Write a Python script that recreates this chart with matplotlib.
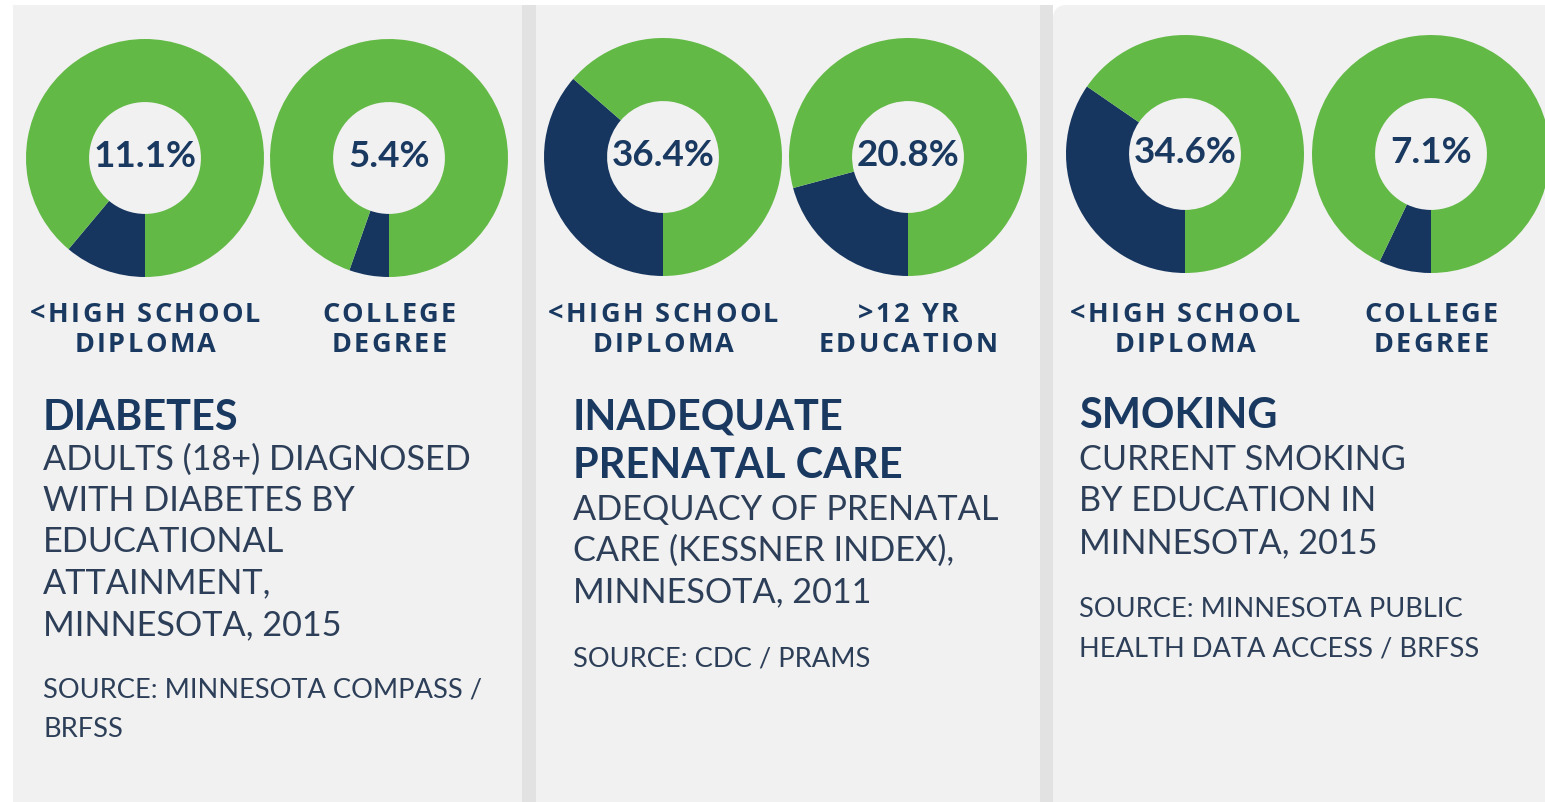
import matplotlib
matplotlib.use("Agg")
import matplotlib.pyplot as plt
from matplotlib.patches import Rectangle, FancyBboxPatch
from matplotlib.font_manager import findfont, FontProperties
from matplotlib.ft2font import FT2Font

W, H = 1545, 803
DPI = 100

# ---------------- data ----------------
panel_titles = ["DIABETES", "INADEQUATE\nPRENATAL CARE", "SMOKING"]
panel_desc = [
    ["ADULTS (18+) DIAGNOSED", "WITH DIABETES BY", "EDUCATIONAL", "ATTAINMENT,", "MINNESOTA, 2015"],
    ["ADEQUACY OF PRENATAL", "CARE (KESSNER INDEX),", "MINNESOTA, 2011"],
    ["CURRENT SMOKING", "BY EDUCATION IN", "MINNESOTA, 2015"],
]
panel_sources = [
    ["SOURCE: MINNESOTA COMPASS /", "BRFSS"],
    ["SOURCE: CDC / PRAMS"],
    ["SOURCE: MINNESOTA PUBLIC", "HEALTH DATA ACCESS / BRFSS"],
]
group_labels = [
    ["<HIGH SCHOOL\nDIPLOMA", "COLLEGE\nDEGREE"],
    ["<HIGH SCHOOL\nDIPLOMA", ">12 YR\nEDUCATION"],
    ["<HIGH SCHOOL\nDIPLOMA", "COLLEGE\nDEGREE"],
]
percent_values = [
    [11.1, 5.4],
    [36.4, 20.8],
    [34.6, 7.1],
]

# ---------------- style / layout ----------------
GREEN = "#63b946"
NAVY = "#163660"
TEXT_NAVY = "#1a3960"
BODY = "#2d3f58"
PANEL_BG = "#f1f1f1"
SEP = "#e2e2e2"

panel_x = [(13, 522), (536, 1040), (1053, 1545)]
donut_cx = [[145, 389], [663, 908], [1185, 1431]]
donut_cy = [159, 158, 155]
R = 119
text_x = [43, 573, 1079]

title_base = [[430], [430, 478], [428]]
desc_base = [[470, 511, 552, 593, 635], [520, 561, 602], [470, 511, 553]]
src_base = [[698, 737], [667], [617, 657]]

LABEL_FS = 19.5
LABEL_TRACK = 2.4  # px between letters
LABEL_FONT = "Open Sans"

fig = plt.figure(figsize=(W / DPI, H / DPI), dpi=DPI)
fig.patch.set_facecolor("white")

def fx(x):
    return x / W

def fy(y):
    return 1 - y / H

bg = fig.add_axes([0, 0, 1, 1])
bg.set_xlim(0, W)
bg.set_ylim(H, 0)
bg.axis("off")
bg.set_zorder(0)

# panels
for i, (x0, x1) in enumerate(panel_x):
    if i < 2:
        bg.add_patch(Rectangle((x0, 6), x1 - x0, H, facecolor=PANEL_BG, edgecolor="none"))
    else:
        bg.add_patch(FancyBboxPatch((x0 + 12, 18), x1 - x0 + 30 - 12, H,
                                    boxstyle="round,pad=12,rounding_size=14",
                                    facecolor=PANEL_BG, edgecolor="none"))
# separators
for xs in [(522, 536), (1040, 1053)]:
    bg.add_patch(Rectangle((xs[0], 6), xs[1] - xs[0], H, facecolor=SEP, edgecolor="none"))

# letter-spaced text helper
_lab_font = FT2Font(findfont(FontProperties(family=LABEL_FONT, weight="bold")))
_lab_font.set_size(LABEL_FS, DPI)

def advance(ch):
    g = _lab_font.load_char(ord(ch))
    return g.linearHoriAdvance / 65536.0

def spaced_text(cx, base, s):
    advs = [advance(c) for c in s]
    total = sum(advs) + LABEL_TRACK * (len(s) - 1)
    x = cx - total / 2
    for c, a in zip(s, advs):
        if c != " ":
            fig.text(fx(x), fy(base), c, ha="left", va="baseline", fontsize=LABEL_FS,
                     fontweight="bold", color=TEXT_NAVY, family=LABEL_FONT)
        x += a + LABEL_TRACK

# donuts
for p in range(3):
    for j in range(2):
        cx, cy = donut_cx[p][j], donut_cy[p]
        ax = fig.add_axes([fx(cx - R), fy(cy + R), 2 * R / W, 2 * R / H])
        v = percent_values[p][j]
        ax.pie([v, 100 - v], colors=[NAVY, GREEN], startangle=-90, counterclock=False,
               radius=1.0, wedgeprops=dict(width=0.53, edgecolor="none"))
        ax.set_xlim(-1, 1)
        ax.set_ylim(-1, 1)
        ax.set_aspect("equal")
        ax.axis("off")
        ax.text(0, 0.02, f"{v}%", ha="center", va="center", fontsize=26.5,
                fontweight="bold", color=TEXT_NAVY, family="Lato")
        lines = group_labels[p][j].split("\n")
        for k, ln in enumerate(lines):
            spaced_text(cx, 322 + 30 * k, ln)

# texts
for p in range(3):
    titles = panel_titles[p].split("\n")
    for k, t in enumerate(titles):
        fig.text(fx(text_x[p]), fy(title_base[p][k]), t, ha="left", va="baseline",
                 fontsize=29.9, fontweight="bold", color=TEXT_NAVY, family="Lato")
    for k, t in enumerate(panel_desc[p]):
        fig.text(fx(text_x[p]), fy(desc_base[p][k]), t, ha="left", va="baseline",
                 fontsize=24.7, color=BODY, family="Lato")
    for k, t in enumerate(panel_sources[p]):
        fig.text(fx(text_x[p]), fy(src_base[p][k]), t, ha="left", va="baseline",
                 fontsize=19.6, color=BODY, family="Lato")

fig.savefig("out.png", dpi=DPI, facecolor="white")
